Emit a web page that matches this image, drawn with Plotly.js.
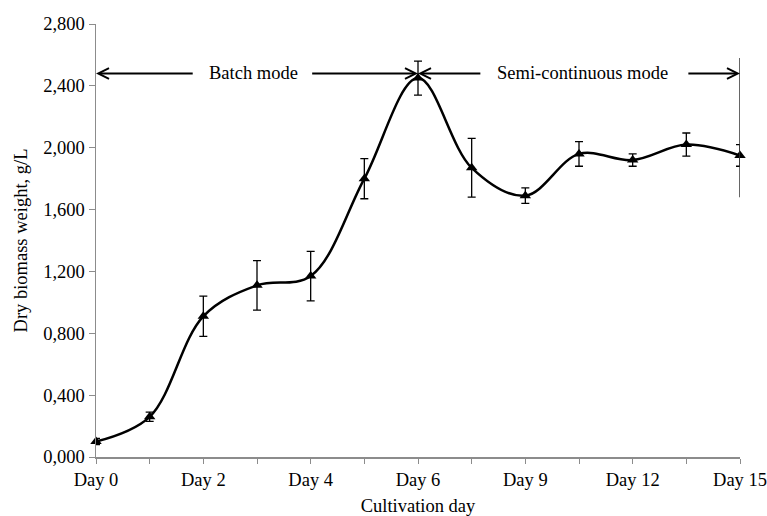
<!DOCTYPE html>
<html>
<head>
<meta charset="utf-8">
<script src="https://cdn.plot.ly/plotly-3.0.1.min.js"></script>
<style>
  html, body { margin: 0; padding: 0; background: #fff; }
  #chart { width: 767px; height: 516px; }
</style>
</head>
<body>
<div id="chart"></div>
<script>
// Sampling points across the cultivation (13 samples, every other one labelled)
const days = ["Day 0", "Day 1", "Day 2", "Day 3", "Day 4", "Day 5", "Day 6",
              "Day 7.5", "Day 9", "Day 10.5", "Day 12", "Day 13.5", "Day 15"];
const tickLabels = ["Day 0", "", "Day 2", "", "Day 4", "", "Day 6",
                    "", "Day 9", "", "Day 12", "", "Day 15"];

// Dry biomass weight (g/L) and standard deviation
const biomass = [0.10, 0.26, 0.91, 1.11, 1.17, 1.80, 2.45, 1.87, 1.69, 1.96, 1.92, 2.02, 1.95];
const biomassSd = [0.02, 0.03, 0.13, 0.16, 0.16, 0.13, 0.11, 0.19, 0.05, 0.08, 0.04, 0.075, 0.07];

// Phase annotation levels
const phaseArrowLevel = 2.48;
const endMarkerTop = 2.58;
const endMarkerBottom = 1.68;

const idx = days.map((d, i) => i);
const switchIdx = days.indexOf("Day 6");
const lastIdx = days.length - 1;

const serif = "Liberation Serif, Times New Roman, serif";
const axisGray = "#8c8c8c";
const fontSize = 18.5;

const trace = {
  x: idx,
  y: biomass,
  text: days,
  type: "scatter",
  mode: "lines+markers",
  line: { color: "#000", width: 2.5, shape: "spline", smoothing: 1 },
  marker: { symbol: "triangle-up", size: 10, color: "#000" },
  error_y: { type: "data", array: biomassSd, visible: true, color: "#000", thickness: 1.3, width: 4 },
  cliponaxis: false,
  hoverinfo: "text+y"
};

function arrow(head, tail) {
  return {
    x: head, y: phaseArrowLevel, ax: tail, ay: phaseArrowLevel,
    xref: "x", yref: "y", axref: "x", ayref: "y",
    text: "", showarrow: true,
    arrowhead: 5, arrowsize: 1.05, arrowwidth: 2, arrowcolor: "#000"
  };
}

const layout = {
  width: 767, height: 516,
  margin: { l: 96, r: 27, t: 24, b: 59 },
  paper_bgcolor: "#fff", plot_bgcolor: "#fff",
  separators: ",.",
  showlegend: false,
  font: { family: serif, size: fontSize, color: "#000" },
  xaxis: {
    range: [0, lastIdx],
    tickmode: "array", tickvals: idx, ticktext: tickLabels,
    ticks: "outside", ticklen: 5, tickcolor: axisGray, tickwidth: 1,
    showline: true, linecolor: axisGray, linewidth: 1.5,
    showgrid: false, zeroline: false,
    tickfont: { family: serif, size: fontSize, color: "#000" },
    title: { text: "Cultivation day", font: { family: serif, size: fontSize, color: "#000" }, standoff: 13 }
  },
  yaxis: {
    range: [0, 2.8],
    tickmode: "linear", tick0: 0, dtick: 0.4, tickformat: ".3f",
    ticks: "outside", ticklen: 6, tickcolor: axisGray, tickwidth: 1,
    showline: true, linecolor: axisGray, linewidth: 1.5,
    showgrid: false, zeroline: false,
    tickfont: { family: serif, size: fontSize, color: "#000" },
    title: { text: "Dry biomass weight, g/L", font: { family: serif, size: fontSize, color: "#000" }, standoff: 10 }
  },
  shapes: [
    { type: "line", xref: "x", yref: "y", x0: lastIdx, x1: lastIdx,
      y0: endMarkerBottom, y1: endMarkerTop, line: { color: "#333", width: 1.5 } }
  ],
  annotations: [
    arrow(0, 1.83),
    arrow(switchIdx, 4.0),
    arrow(switchIdx, 7.19),
    arrow(lastIdx, 11.01),
    { x: 2.93, y: phaseArrowLevel, xref: "x", yref: "y", text: "Batch mode", showarrow: false,
      font: { family: serif, size: fontSize, color: "#000" } },
    { x: 9.07, y: phaseArrowLevel, xref: "x", yref: "y", text: "Semi-continuous mode", showarrow: false,
      font: { family: serif, size: fontSize, color: "#000" } }
  ]
};

Plotly.newPlot("chart", [trace], layout, { displayModeBar: false, staticPlot: true });
</script>
</body>
</html>
